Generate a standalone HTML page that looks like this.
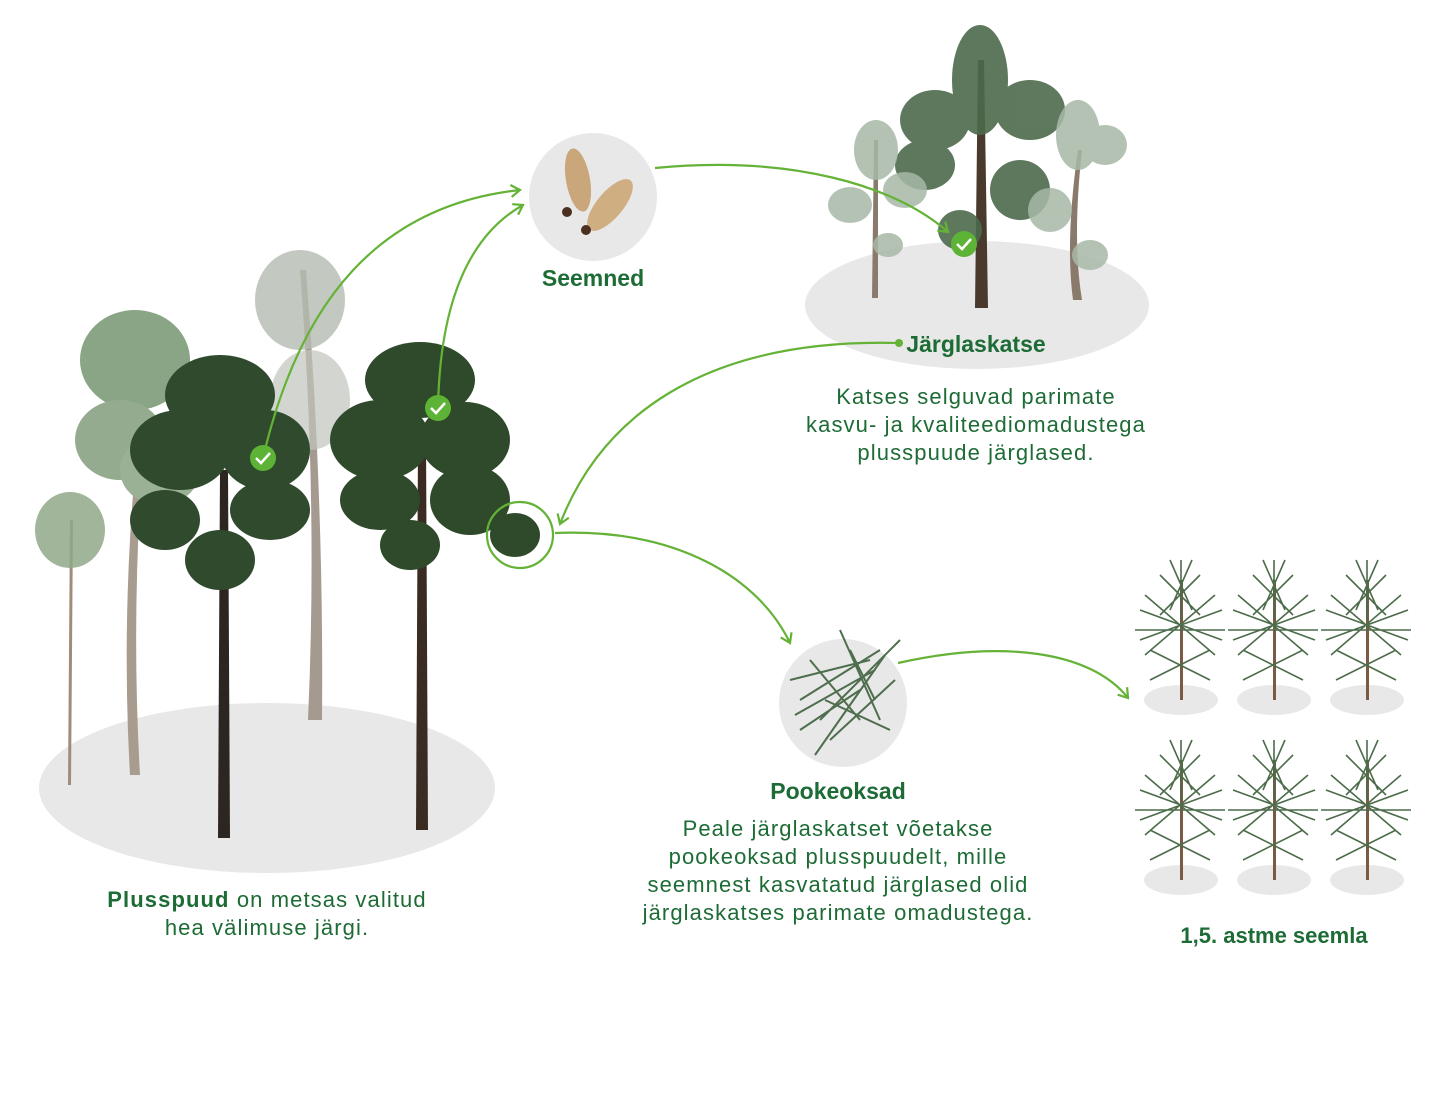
<!DOCTYPE html>
<html><head><meta charset="utf-8"><style>
html,body{margin:0;padding:0;background:#fff;}
svg{display:block}
text{font-family:"Liberation Sans",sans-serif;fill:#1d6b35}
.b{letter-spacing:1.1px}
</style></head><body>
<svg width="1440" height="1093" viewBox="0 0 1440 1093" xmlns="http://www.w3.org/2000/svg">
<defs>
<marker id="ah" markerWidth="14" markerHeight="14" refX="10" refY="7" orient="auto" markerUnits="userSpaceOnUse">
<path d="M1,1 L10,7 L1,13" fill="none" stroke="#64b236" stroke-width="2.2"/></marker>
</defs>
<ellipse cx="267" cy="788" rx="228" ry="85" fill="#e8e8e8"/>
<ellipse cx="977" cy="305" rx="172" ry="64" fill="#e8e8e8"/>
<circle cx="593" cy="197" r="64" fill="#e8e8e8"/>
<circle cx="843" cy="703" r="64" fill="#e8e8e8"/>
<g fill="#e8e8e8">
<ellipse cx="1181" cy="700" rx="37" ry="15"/><ellipse cx="1274" cy="700" rx="37" ry="15"/><ellipse cx="1367" cy="700" rx="37" ry="15"/>
<ellipse cx="1181" cy="880" rx="37" ry="15"/><ellipse cx="1274" cy="880" rx="37" ry="15"/><ellipse cx="1367" cy="880" rx="37" ry="15"/>
</g>
<g>
<path d="M68,785 L70,520 L73,520 L71,785Z" fill="#a08c7c"/>
<ellipse cx="70" cy="530" rx="35" ry="38" fill="#8fa888" opacity="0.85"/>
<path d="M130,775 Q120,600 140,420 L146,420 Q130,600 140,775Z" fill="#a89c8e"/>
<ellipse cx="135" cy="360" rx="55" ry="50" fill="#8aa486"/>
<ellipse cx="120" cy="440" rx="45" ry="40" fill="#94ab8f"/>
<ellipse cx="160" cy="470" rx="40" ry="35" fill="#9ab196"/>
<path d="M308,720 Q318,500 300,270 L306,270 Q324,500 322,720Z" fill="#a59a90"/>
<ellipse cx="300" cy="300" rx="45" ry="50" fill="#b4bbb0" opacity="0.8"/>
<ellipse cx="310" cy="400" rx="40" ry="50" fill="#c0c4bc" opacity="0.7"/>
</g>
<path d="M218,838 L220,470 L228,470 L230,838Z" fill="#2d2520"/>
<g fill="#2f4a2c">
<ellipse cx="220" cy="395" rx="55" ry="40"/><ellipse cx="180" cy="450" rx="50" ry="40"/><ellipse cx="265" cy="450" rx="45" ry="40"/>
<ellipse cx="165" cy="520" rx="35" ry="30"/><ellipse cx="270" cy="510" rx="40" ry="30"/><ellipse cx="220" cy="560" rx="35" ry="30"/>
</g>
<path d="M416,830 L418,440 L426,440 L428,830Z" fill="#3a2c22"/>
<g fill="#2e4a2b">
<ellipse cx="420" cy="380" rx="55" ry="38"/><ellipse cx="380" cy="440" rx="50" ry="40"/><ellipse cx="465" cy="440" rx="45" ry="38"/>
<ellipse cx="380" cy="500" rx="40" ry="30"/><ellipse cx="470" cy="500" rx="40" ry="35"/><ellipse cx="515" cy="535" rx="25" ry="22"/><ellipse cx="410" cy="545" rx="30" ry="25"/>
</g>
<g>
<path d="M975,308 L978,60 L984,60 L988,308Z" fill="#4a3a2e"/>
<g fill="#4c6a4c" opacity="0.9">
<ellipse cx="980" cy="80" rx="28" ry="55"/><ellipse cx="935" cy="120" rx="35" ry="30"/><ellipse cx="1030" cy="110" rx="35" ry="30"/>
<ellipse cx="925" cy="165" rx="30" ry="25"/><ellipse cx="1020" cy="190" rx="30" ry="30"/><ellipse cx="960" cy="230" rx="22" ry="20"/>
</g>
<path d="M872,298 L874,140 L878,140 L878,298Z" fill="#8a7a6c"/>
<g fill="#a8b8a8" opacity="0.85"><ellipse cx="876" cy="150" rx="22" ry="30"/><ellipse cx="850" cy="205" rx="22" ry="18"/><ellipse cx="905" cy="190" rx="22" ry="18"/><ellipse cx="888" cy="245" rx="15" ry="12"/></g>
<path d="M1073,300 Q1065,240 1078,150 L1082,150 Q1072,240 1082,300Z" fill="#8a7a6c"/>
<g fill="#a8b8a8" opacity="0.85"><ellipse cx="1078" cy="135" rx="22" ry="35"/><ellipse cx="1105" cy="145" rx="22" ry="20"/><ellipse cx="1050" cy="210" rx="22" ry="22"/><ellipse cx="1090" cy="255" rx="18" ry="15"/></g>
</g>
<ellipse cx="578" cy="180" rx="12" ry="32" fill="#c9a77a" transform="rotate(-10 578 180)"/>
<ellipse cx="610" cy="205" rx="13" ry="32" fill="#cfae82" transform="rotate(40 610 205)"/>
<circle cx="567" cy="212" r="5" fill="#4a3020"/><circle cx="586" cy="230" r="5" fill="#4a3020"/>
<g stroke="#4f6e4d" stroke-width="2" fill="none">
<path d="M815,755 L885,655"/>
<path d="M800,700 L880,650 M790,680 L870,660 M820,720 L900,640 M830,740 L895,680 M800,730 L860,690 M850,650 L875,700 M810,660 L860,720 M840,630 L880,720 M795,715 L875,670 M825,700 L890,730"/>
</g>
<g id="sd">
<path d="M1180,700 L1180,580 L1183,580 L1183,700Z" fill="#7a5a42"/>
<g stroke="#4c6c4a" stroke-width="1.6">
<path d="M1181,560 L1181,620 M1160,575 L1200,615 M1200,575 L1160,615 M1140,610 L1222,640 M1222,610 L1140,640 M1150,650 L1210,680 M1210,650 L1150,680 M1135,630 L1225,630 M1170,560 L1192,610 M1192,560 L1170,610 M1145,595 L1215,655 M1215,595 L1145,655"/>
</g>
</g>
<use href="#sd" x="93"/><use href="#sd" x="186"/>
<use href="#sd" y="180"/><use href="#sd" x="93" y="180"/><use href="#sd" x="186" y="180"/>
<g fill="none" stroke="#64b236" stroke-width="2.2">
<path d="M263,458 C300,300 380,205 520,190" marker-end="url(#ah)"/>
<path d="M438,408 C440,300 470,235 523,205" marker-end="url(#ah)"/>
<path d="M655,168 C790,155 895,185 948,232" marker-end="url(#ah)"/>
<path d="M898,343 C700,338 600,420 560,524" marker-end="url(#ah)"/>
<path d="M555,533 C680,528 760,580 790,643" marker-end="url(#ah)"/>
<path d="M898,663 C1000,640 1090,650 1128,698" marker-end="url(#ah)"/>
<circle cx="520" cy="535" r="33"/>
</g>
<circle cx="899" cy="343" r="4" fill="#64b236"/>
<g>
<circle cx="263" cy="458" r="13" fill="#5db336"/><path d="M256,458 L261,463 L270,453" stroke="#fff" stroke-width="2.5" fill="none"/>
<circle cx="438" cy="408" r="13" fill="#5db336"/><path d="M431,408 L436,413 L445,403" stroke="#fff" stroke-width="2.5" fill="none"/>
<circle cx="964" cy="244" r="13" fill="#5db336"/><path d="M957,244 L962,249 L971,239" stroke="#fff" stroke-width="2.5" fill="none"/>
</g>
<g font-size="22" text-anchor="middle">
<text x="593" y="286" font-weight="bold" font-size="23">Seemned</text>
<text x="976" y="352" font-weight="bold" font-size="23">Järglaskatse</text>
<text class="b" x="976" y="404">Katses selguvad parimate</text>
<text class="b" x="976" y="432">kasvu- ja kvaliteediomadustega</text>
<text class="b" x="976" y="460">plusspuude järglased.</text>
<text x="838" y="799" font-weight="bold" font-size="23">Pookeoksad</text>
<text class="b" x="838" y="836">Peale järglaskatset võetakse</text>
<text class="b" x="838" y="864">pookeoksad plusspuudelt, mille</text>
<text class="b" x="838" y="892">seemnest kasvatatud järglased olid</text>
<text class="b" x="838" y="920">järglaskatses parimate omadustega.</text>
<text class="b" x="267" y="907"><tspan font-weight="bold">Plusspuud</tspan> on metsas valitud</text>
<text class="b" x="267" y="935">hea välimuse järgi.</text>
<text x="1274" y="943" font-weight="bold">1,5. astme seemla</text>
</g>
</svg>
</body></html>
